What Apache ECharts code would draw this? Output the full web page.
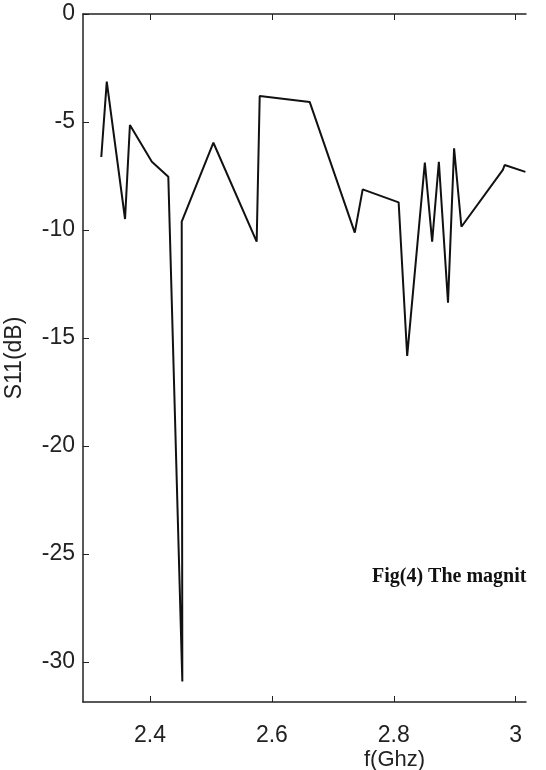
<!DOCTYPE html>
<html>
<head>
<meta charset="utf-8">
<script src="https://cdn.jsdelivr.net/npm/echarts@6/dist/echarts.min.js"></script>
<style>
  html, body { margin: 0; padding: 0; background: #fff; }
  #chart { width: 546px; height: 770px; }
</style>
</head>
<body>
<div id="chart"></div>
<script>
// S11 magnitude
const freqs = [2.320, 2.329, 2.359, 2.367, 2.403, 2.430, 2.453, 2.452, 2.504, 2.575, 2.580, 2.662,
  2.736, 2.749, 2.808, 2.822, 2.851, 2.863, 2.874, 2.889, 2.899, 2.911, 2.979, 2.982, 3.016];
const s11 = [-6.62, -3.13, -9.49, -5.14, -6.84, -7.53, -30.9, -9.61, -5.96, -10.54, -3.80, -4.07,
  -10.12, -8.12, -8.72, -15.83, -6.88, -10.54, -6.84, -13.36, -6.22, -9.85, -7.22, -6.99, -7.31];
const xTicks = [2.4, 2.6, 2.8, 3];
const yTicks = [0, -5, -10, -15, -20, -25, -30];

const chart = echarts.init(document.getElementById("chart"));
const axisFont = "Liberation Sans, Arial, sans-serif";

const option = {
  animation: false,
  backgroundColor: "#fff",
  grid: { left: 83, right: 20, top: 14, bottom: 68, containLabel: false, outerBoundsMode: "none" },
  xAxis: [
    {
      type: "value",
      min: 2.29,
      max: 3.017,
      position: "bottom",
      name: "f(Ghz)",
      nameLocation: "middle",
      nameGap: 47,
      nameMoveOverlap: false,
      // the scan has the axis title sitting under 2.8, not mid-axis
      nameTextStyle: { fontFamily: axisFont, fontSize: 22, color: "#222", padding: [0, 0, 0, 180] },
      axisLine: { onZero: false, lineStyle: { color: "#222", width: 1.5 } },
      axisTick: { inside: true, length: 6, customValues: xTicks, lineStyle: { color: "#222" } },
      axisLabel: {
        customValues: xTicks,
        margin: 22,
        fontFamily: axisFont,
        fontSize: 23,
        color: "#222",
        formatter: (v) => String(v),
      },
      splitLine: { show: false },
    },
    {
      type: "value",
      min: 2.29,
      max: 3.017,
      position: "top",
      axisLine: { show: true, onZero: false, lineStyle: { color: "#222", width: 1.5 } },
      axisTick: { inside: true, length: 6, customValues: xTicks, lineStyle: { color: "#222" } },
      axisLabel: { show: false },
      splitLine: { show: false },
    },
  ],
  yAxis: {
    type: "value",
    min: -31.85,
    max: 0,
    name: "S11(dB)",
    nameLocation: "middle",
    nameGap: 57,
    nameMoveOverlap: false,
    nameTextStyle: { fontFamily: axisFont, fontSize: 23, color: "#222" },
    axisLine: { show: true, onZero: false, lineStyle: { color: "#222", width: 1.5 } },
    axisTick: { show: true, inside: true, length: 6, customValues: yTicks, lineStyle: { color: "#222" } },
    axisLabel: {
      customValues: yTicks,
      margin: 8,
      fontFamily: axisFont,
      fontSize: 23,
      color: "#222",
    },
    splitLine: { show: false },
  },
  graphic: [
    {
      type: "text",
      left: 372,
      top: 567,
      style: {
        text: "Fig(4) The magnit",
        font: "bold 20px 'Liberation Serif', 'DejaVu Serif', serif",
        fill: "#111",
      },
    },
  ],
  series: [
    {
      type: "line",
      xAxisIndex: 0,
      data: freqs.map((f, i) => [f, s11[i]]),
      showSymbol: false,
      lineStyle: { color: "#111", width: 2 },
    },
  ],
};

chart.setOption(option);
</script>
</body>
</html>
